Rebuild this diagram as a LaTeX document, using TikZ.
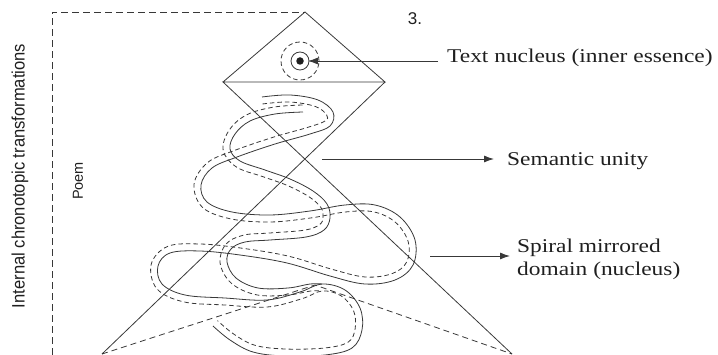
\documentclass[tikz,border=0pt]{standalone}
\usepackage{fontspec}
\setmainfont{Liberation Serif}
\newfontfamily\lblfont[FakeStretch=1.2]{Liberation Serif}
\newfontfamily\sansf{Liberation Sans}
\newfontfamily\vsansf[FakeStretch=0.92]{Liberation Sans}
\usetikzlibrary{arrows.meta,calc}

\tikzset{
  ln/.style={draw=black!78, line width=0.8pt},
  dsh/.style={draw=black!78, line width=0.8pt, dash pattern=on 4.5pt off 3pt},
  tridash/.style={draw=black!78, line width=0.8pt, dash pattern=on 6pt off 4pt},
  framedash/.style={draw=black!78, line width=0.9pt, dash pattern=on 7pt off 4pt},
  arr/.style={draw=black!78, line width=0.9pt, -{Latex[length=10pt,width=7pt]}},
  lbl/.style={font=\lblfont\fontsize{19.5}{23}\selectfont, text=black!88, inner sep=0pt, align=left},
  vlbl/.style={rotate=90, text=black!88, inner sep=0pt},
}

% offset a polyline (arrays of x and y) to its right-hand side by a distance
\newcommand\offsetcoords[4]{%
  \gdef\offcoords{}%
  \foreach \k in {0,...,#3}{%
    \pgfmathtruncatemacro\kprev{max(\k-1,0)}%
    \pgfmathtruncatemacro\knext{min(\k+1,#3)}%
    \pgfmathsetmacro\ddx{#1[\knext]-#1[\kprev]}%
    \pgfmathsetmacro\ddy{#2[\knext]-#2[\kprev]}%
    \pgfmathsetmacro\dlen{sqrt(\ddx*\ddx+\ddy*\ddy)}%
    \pgfmathsetmacro\ox{#1[\k]-#4*\ddy/\dlen}%
    \pgfmathsetmacro\oy{#2[\k]+#4*\ddx/\dlen}%
    \xdef\offcoords{\offcoords(\ox,\oy)}%
  }%
}

% strand A
\def\Ax{{262,290,318,333,330,310,275,237,212,201,207,232,270,310,345,375,400,415,413,395,365,330,287,240,200,170,158,162,185,225,267,300,322,345,360,362,352,325,285,253,230,213}}
\def\Ay{{97,95,100,112,126,134,144,157,168,185,202,212,215,211,205,205,217,240,265,280,284,276,263,255,251,253,266,284,295,298,300,292,284,290,308,330,348,355,356,352,340,326}}
% strand B
\def\Bx{{303,275,250,235,230,240,265,290,313,327,330,324,306,270,245,231,227,236,258,288,310,322}}
\def\By{{112,114,121,134,149,161,170,179,191,204,218,230,237,240,242,249,262,278,288,288,284,284}}

\begin{document}
\begin{tikzpicture}[x=1pt,y=-1pt]
\useasboundingbox (0,0) rectangle (718,355);

% key points
\coordinate (apex) at (305,12);
\coordinate (dl) at (223,82);
\coordinate (dr) at (385,82);
\coordinate (bl) at (102,354);
\coordinate (br) at (512,354);
\coordinate (mapex) at (315,285);
\coordinate (fcorner) at (52,12);
\coordinate (fbottom) at (52,355);

% dashed frame
\draw[framedash] (fbottom) -- (fcorner) -- (apex);

% diamond and cone
\draw[ln] (dl) -- (apex) -- (dr) -- (dl) -- (br);
\draw[ln] (dr) -- (bl);
% mirrored dashed triangle
\draw[tridash] (bl) -- (mapex) -- (br);

% spiral strands
\offsetcoords{\Ax}{\Ay}{41}{0}
\edef\tmp{\noexpand\draw[ln] plot[smooth, tension=0.6] coordinates {\offcoords};}\tmp
\offsetcoords{\Ax}{\Ay}{41}{7}
\edef\tmp{\noexpand\draw[dsh] plot[smooth, tension=0.6] coordinates {\offcoords};}\tmp
\offsetcoords{\Bx}{\By}{21}{0}
\edef\tmp{\noexpand\draw[ln] plot[smooth, tension=0.6] coordinates {\offcoords};}\tmp
\offsetcoords{\Bx}{\By}{21}{7}
\edef\tmp{\noexpand\draw[dsh] plot[smooth, tension=0.6] coordinates {\offcoords};}\tmp

% nucleus
\node[circle, fill=black!88, inner sep=0pt, minimum size=7.5pt] (nuc) at (300,61) {};
\draw[ln] (nuc.center) circle[radius=9pt];
\draw[dsh] (nuc.center) circle[radius=19pt];

% labels
\node[lbl, anchor=base west] (tn) at (447,63) {Text nucleus (inner essence)};
\draw[arr, shorten <=9pt, shorten >=4pt] (tn.west |- nuc) -- (nuc.east);

\coordinate (suA) at (322,159);
\node[lbl, anchor=base west] (su) at (507,166) {Semantic unity};
\draw[arr, shorten >=13pt] (suA) -- (suA -| su.west);

\coordinate (spA) at (430,256);
\node[lbl, anchor=west] (sp) at (517,259) {Spiral mirrored\\domain (nucleus)};
\draw[arr, shorten >=7pt] (spA) -- (spA -| sp.west);

\node[vlbl, font=\vsansf\fontsize{18}{20}\selectfont] (ict) at (20,176) {Internal chronotopic transformations};
\node[vlbl, font=\sansf\fontsize{14.5}{16}\selectfont] (poem) at (78,181) {Poem};
\node[font=\sansf\fontsize{17}{20}\selectfont, text=black!88, inner sep=0pt] (num) at (415,19) {3.};
\end{tikzpicture}
\end{document}
